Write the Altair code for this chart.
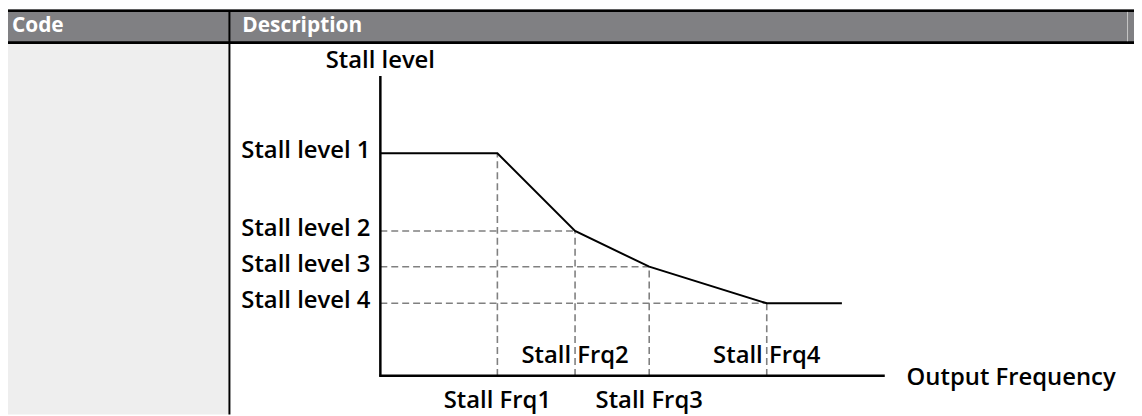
import altair as alt
import pandas as pd

# ---- data (axis units 0..100 on both axes) ----
freq_labels = ["Stall Frq1", "Stall Frq2", "Stall Frq3", "Stall Frq4"]
freq_values = [23.2, 38.6, 53.3, 76.6]
level_labels = ["Stall level 1", "Stall level 2", "Stall level 3", "Stall level 4"]
level_values = [74.2, 48.3, 36.4, 24.2]
curve_x = [0, 23.2, 38.6, 53.3, 76.6, 91.5]
curve_y = [74.2, 74.2, 48.3, 36.4, 24.2, 24.2]
header_labels = ["Code", "Description"]
y_title = "Stall level"
x_title = "Output Frequency"

FONT = "Open Sans"
FS = 24
W, H = 1134, 408

xs = alt.Scale(domain=[0, 100], range=[375, 883])
ys = alt.Scale(domain=[0, 100], range=[369, 67])

one = pd.DataFrame({"a": [0]})

# ---- table frame ----
header_bg = alt.Chart(one).mark_rect(color="#808083").encode(
    x=alt.value(0), x2=alt.value(W), y=alt.value(0), y2=alt.value(34))
header_top = alt.Chart(one).mark_rect(color="#000000").encode(
    x=alt.value(0), x2=alt.value(W), y=alt.value(0), y2=alt.value(2.5))
header_bot = alt.Chart(one).mark_rect(color="#000000").encode(
    x=alt.value(0), x2=alt.value(W), y=alt.value(32), y2=alt.value(34.7))
left_col = alt.Chart(one).mark_rect(color="#eeeeee").encode(
    x=alt.value(0), x2=alt.value(222), y=alt.value(34.7), y2=alt.value(H))
divider = alt.Chart(one).mark_rule(color="#000000", strokeWidth=2).encode(
    x=alt.value(223), y=alt.value(2), y2=alt.value(H))
right_div = alt.Chart(one).mark_rule(color="#c8c8c8", strokeWidth=1).encode(
    x=alt.value(1127.5), y=alt.value(2.5), y2=alt.value(32))

hdf = pd.DataFrame({"t": header_labels, "px": [4, 236]})
header_text = alt.Chart(hdf).mark_text(
    font=FONT, fontSize=21, fontWeight="bold", color="white",
    align="left", baseline="alphabetic").encode(
    x=alt.X("px:Q", scale=None), y=alt.value(23), text="t:N")

# ---- axes ----
y_axis = alt.Chart(one).mark_rule(color="#000000", strokeWidth=2.5).encode(
    x=alt.value(375), y=alt.value(67), y2=alt.value(370))
x_axis = alt.Chart(one).mark_rule(color="#000000", strokeWidth=2.5).encode(
    x=alt.value(374), x2=alt.value(883), y=alt.value(369))

# ---- dashed guides ----
guides_h = pd.DataFrame({"x0": [0, 0, 0], "x1": freq_values[1:], "y": level_values[1:]})
guides_v = pd.DataFrame({"x": freq_values, "y0": [0] * 4, "y1": level_values})
dash_h = alt.Chart(guides_h).mark_rule(color="#808080", strokeWidth=1.6, strokeDash=[7, 4]).encode(
    x=alt.X("x0:Q", scale=xs, axis=None), x2="x1:Q",
    y=alt.Y("y:Q", scale=ys, axis=None))
dash_v = alt.Chart(guides_v).mark_rule(color="#808080", strokeWidth=1.6, strokeDash=[7, 4]).encode(
    x=alt.X("x:Q", scale=xs, axis=None),
    y=alt.Y("y0:Q", scale=ys, axis=None), y2="y1:Q")

# ---- curve ----
cdf = pd.DataFrame({"x": curve_x, "y": curve_y, "o": range(len(curve_x))})
curve = alt.Chart(cdf).mark_line(color="#000000", strokeWidth=2).encode(
    x=alt.X("x:Q", scale=xs, axis=None),
    y=alt.Y("y:Q", scale=ys, axis=None), order="o:O")

# ---- labels ----
ldf = pd.DataFrame({"t": level_labels, "y": level_values})
level_text = alt.Chart(ldf).mark_text(
    font=FONT, fontSize=FS, fontWeight=600, color="#000000",
    align="left", baseline="middle", dy=-2).encode(
    x=alt.value(235), y=alt.Y("y:Q", scale=ys, axis=None), text="t:N")

fdf = pd.DataFrame({"t": freq_labels, "x": freq_values, "pos": [401, 356, 401, 356]})
freq_text = alt.Chart(fdf).mark_text(
    font=FONT, fontSize=FS, fontWeight=600, color="#000000",
    align="center", baseline="alphabetic").encode(
    x=alt.X("x:Q", scale=xs, axis=None), y=alt.Y("pos:Q", scale=None), text="t:N")

tdf = pd.DataFrame({"t": [y_title], "x": [0]})
ytitle = alt.Chart(tdf).mark_text(
    font=FONT, fontSize=FS, fontWeight=600, color="#000000",
    align="center", baseline="alphabetic").encode(
    x=alt.X("x:Q", scale=xs, axis=None), y=alt.value(59), text="t:N")

xdf = pd.DataFrame({"t": [x_title], "y": [0]})
xtitle = alt.Chart(xdf).mark_text(
    font=FONT, fontSize=FS, fontWeight=600, color="#000000",
    align="left", baseline="middle", dy=2).encode(
    x=alt.value(905), y=alt.Y("y:Q", scale=ys, axis=None), text="t:N")

chart = alt.layer(
    header_bg, header_top, header_bot, left_col, divider, right_div, header_text,
    dash_h, dash_v, curve, y_axis, x_axis,
    level_text, freq_text, ytitle, xtitle,
).properties(
    width=W, height=H, padding=0, autosize="none", background="white"
).configure_view(strokeWidth=0)

chart.save("out.html", embed_options={"renderer": "svg", "actions": False})
